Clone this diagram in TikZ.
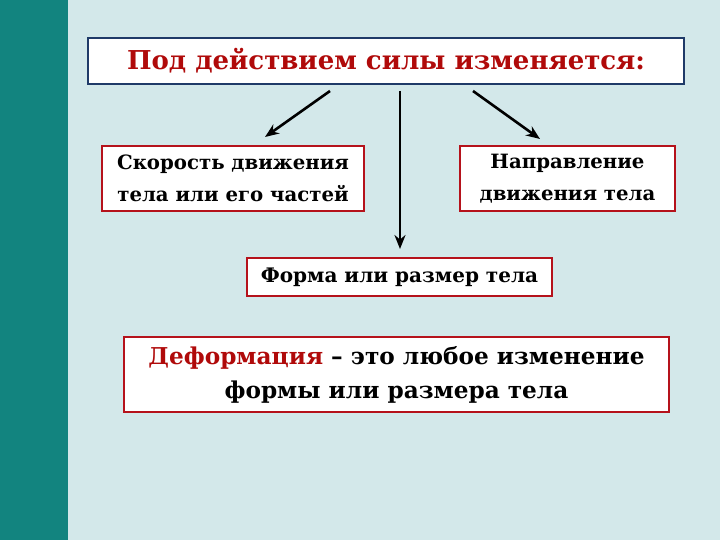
\documentclass[tikz,border=0pt]{standalone}
\usepackage{fontspec}
\setmainfont{DejaVu Serif}
\usepackage{xcolor}
\usetikzlibrary{arrows.meta,positioning}
\definecolor{teal strip}{HTML}{12847F}
\definecolor{board}{HTML}{D3E8EA}
\definecolor{darkred}{HTML}{B00A0A}
\definecolor{frame blue}{HTML}{1F3A68}
\definecolor{frame red}{HTML}{B5121B}

\begin{document}
\begin{tikzpicture}[
x=1pt, y=-1pt,
font=\bfseries,
titlebox/.style={draw=frame blue, line width=2pt, fill=white, inner sep=0pt,
  minimum width=596pt, minimum height=46pt, font=\fontsize{26}{30}\bfseries, text=darkred},
redbox/.style={draw=frame red, line width=2pt, fill=white, inner sep=0pt, align=center},
pointer/.style={line width=2.6pt, -{Stealth[length=14pt,width=11pt]}}
]
    % background
    \fill[board] (0,0) rectangle (720,540);
    \fill[teal strip] (0,0) rectangle (68,540);
    \useasboundingbox (0,0) rectangle (720,540);

    % boxes
    \node[titlebox] (head) at (386,61) {Под действием силы изменяется:};
    \node[redbox, minimum width=262pt, minimum height=65pt,
      font=\fontsize{19.7}{32}\bfseries] (speed) at (233,178.5)
      {Скорость движения\\тела или его частей};
    \node[redbox, minimum width=215pt, minimum height=65pt,
      font=\fontsize{19.7}{32}\bfseries] (course) at (567.5,178.5)
      {Направление\\движения тела};
    \node[redbox, minimum width=305pt, minimum height=38pt,
      font=\fontsize{20}{24}\bfseries] (form) at (399.5,277)
      {Форма или размер тела};
    \node[redbox, minimum width=545pt, minimum height=75pt,
      font=\fontsize{23.2}{34}\bfseries] (defn) at (396.5,374.5)
      {\textcolor{darkred}{Деформация} – это любое изменение\\формы или размера тела};

    % arrows
    \draw[pointer] ([xshift=-56pt,yshift=-6pt]head.south) -- ([xshift=32pt,yshift=8pt]speed.north);
    \draw[pointer] ([xshift=14pt,yshift=-6pt]head.south) -- ([xshift=0.5pt,yshift=8pt]form.north);
    \draw[pointer] ([xshift=87pt,yshift=-6pt]head.south) -- ([xshift=-27.5pt,yshift=6pt]course.north);
\end{tikzpicture}
\end{document}
